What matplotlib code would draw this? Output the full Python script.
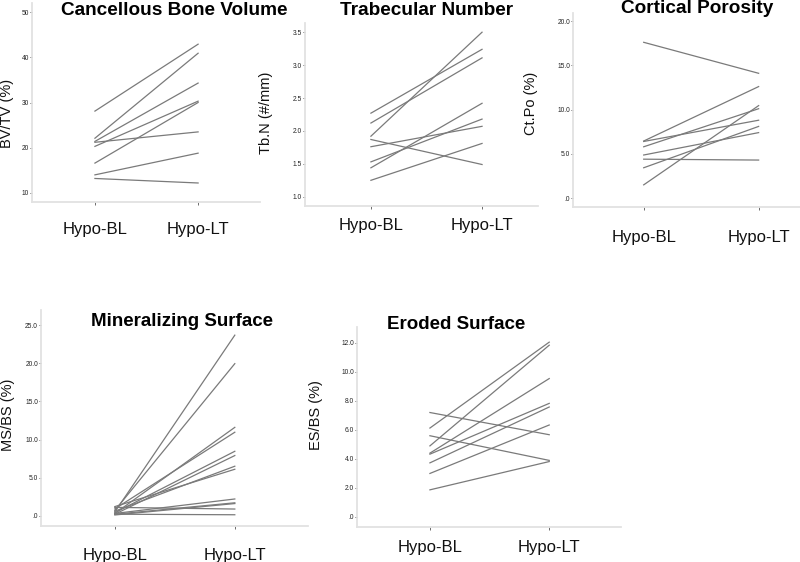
import matplotlib
matplotlib.use("Agg")
from matplotlib import pyplot as plt
from matplotlib.ticker import FuncFormatter

plt.rcParams['font.family'] = ['Liberation Sans', 'DejaVu Sans']

groups = ["Hypo-BL", "Hypo-LT"]

# BV/TV (%)
bv_bl = [28.1, 22.1, 21.4, 21.2, 20.3, 16.6, 14.0, 13.2]
bv_lt = [42.9, 40.9, 34.3, 23.5, 30.3, 30.0, 18.8, 12.2]

# Tb.N (#/mm)
tb_bl = [2.27, 2.12, 1.92, 1.87, 1.76, 1.53, 1.44, 1.25]
tb_lt = [3.24, 3.11, 3.50, 1.49, 2.07, 2.18, 2.42, 1.81]

# Ct.Po (%)
ct_bl = [17.6, 6.45, 6.4, 5.8, 4.87, 4.4, 3.43, 1.5]
ct_lt = [14.1, 12.6, 8.8, 10.1, 7.4, 4.3, 8.1, 10.45]

# MS/BS (%)
ms_bl = [0.5, 0.7, 0.3, 0.9, 0.4, 0.2, 0.6, 1.2, 0.3, 0.2, 0.1, 1.1, 0.2]
ms_lt = [23.7, 19.96, 11.6, 10.96, 8.46, 7.9, 6.5, 6.1, 2.2, 1.7, 1.6, 0.88, 0.13]

# ES/BS (%)
es_bl = [7.2, 6.13, 5.6, 4.9, 4.4, 4.33, 3.73, 3.0, 1.87]
es_lt = [5.67, 12.05, 3.9, 11.84, 9.54, 7.83, 7.58, 6.34, 3.82]


def one_dec(v, pos):
    s = "%.1f" % v
    if s.startswith("0."):
        s = s[1:]
    return s


def int_fmt(v, pos):
    return "%d" % round(v)


fig = plt.figure(figsize=(8, 5.62), dpi=100)


def draw_panel(rect, bl, lt, ylim, yticks, fmt, ylabel, lab_xy, xlim, xpad):
    ax = fig.add_axes(rect)
    for a, b in zip(bl, lt):
        ax.plot([0, 1], [a, b], color="#7a7a7a", lw=0.9)
    ax.set_xlim(*xlim)
    ax.set_ylim(*ylim)
    ax.set_xticks([0, 1])
    ax.set_xticklabels(groups, fontsize=12, color="#111111")
    ax.set_yticks(yticks)
    ax.yaxis.set_major_formatter(FuncFormatter(fmt))
    ax.tick_params(axis="y", labelsize=4.8, length=1.5, width=0.6, pad=0.5,
                   color="#333333", labelcolor="#222222")
    ax.tick_params(axis="x", length=2.5, width=0.6, pad=xpad, color="#555555")
    for s in ["top", "right"]:
        ax.spines[s].set_visible(False)
    for s in ["left", "bottom"]:
        ax.spines[s].set_color("#e2e2e2")
        ax.spines[s].set_linewidth(1.3)
    ax.set_ylabel(ylabel, fontsize=10.5, color="#111111")
    # label anchor is its right edge once rotated
    ax.yaxis.set_label_coords(*lab_xy)
    return ax


draw_panel([0.040, 0.6406, 0.285, 0.354], bv_bl, bv_lt, (8, 52), [10, 20, 30, 40, 50],
           int_fmt, "BV/TV (%)", (-0.081, 0.447), (-0.61, 1.60), 12)
draw_panel([0.381, 0.6335, 0.291, 0.3256], tb_bl, tb_lt, (0.86, 3.64), [1.0, 1.5, 2.0, 2.5, 3.0, 3.5],
           one_dec, "Tb.N (#/mm)", (-0.135, 0.508), (-0.595, 1.50), 6)
draw_panel([0.716, 0.6317, 0.284, 0.345], ct_bl, ct_lt, (-1, 20.9), [0, 5, 10, 15, 20],
           one_dec, "Ct.Po (%)", (-0.154, 0.536), (-0.617, 1.36), 14)
draw_panel([0.051, 0.064, 0.334, 0.3844], ms_bl, ms_lt, (-1.35, 27), [0, 5, 10, 15, 20, 25],
           one_dec, "MS/BS (%)", (-0.097, 0.514), (-0.617, 1.61), 13)
draw_panel([0.446, 0.0623, 0.33, 0.356], es_bl, es_lt, (-0.69, 13.1), [0, 2, 4, 6, 8, 10, 12],
           one_dec, "ES/BS (%)", (-0.129, 0.56), (-0.613, 1.60), 7)

fig.text(174 / 800, 1 - 15 / 562, "Cancellous Bone Volume", ha="center", va="baseline",
         fontsize=13.7, fontweight="bold")
fig.text(427 / 800, 1 - 15 / 562, "Trabecular Number", ha="center", va="baseline",
         fontsize=13.7, fontweight="bold")
fig.text(697 / 800, 1 - 13 / 562, "Cortical Porosity", ha="center", va="baseline",
         fontsize=13.7, fontweight="bold")
fig.text(182 / 800, 1 - 326 / 562, "Mineralizing Surface", ha="center", va="baseline",
         fontsize=13.5, fontweight="bold")
fig.text(456 / 800, 1 - 329 / 562, "Eroded Surface", ha="center", va="baseline",
         fontsize=13.5, fontweight="bold")

fig.savefig("out.png", dpi=100)
